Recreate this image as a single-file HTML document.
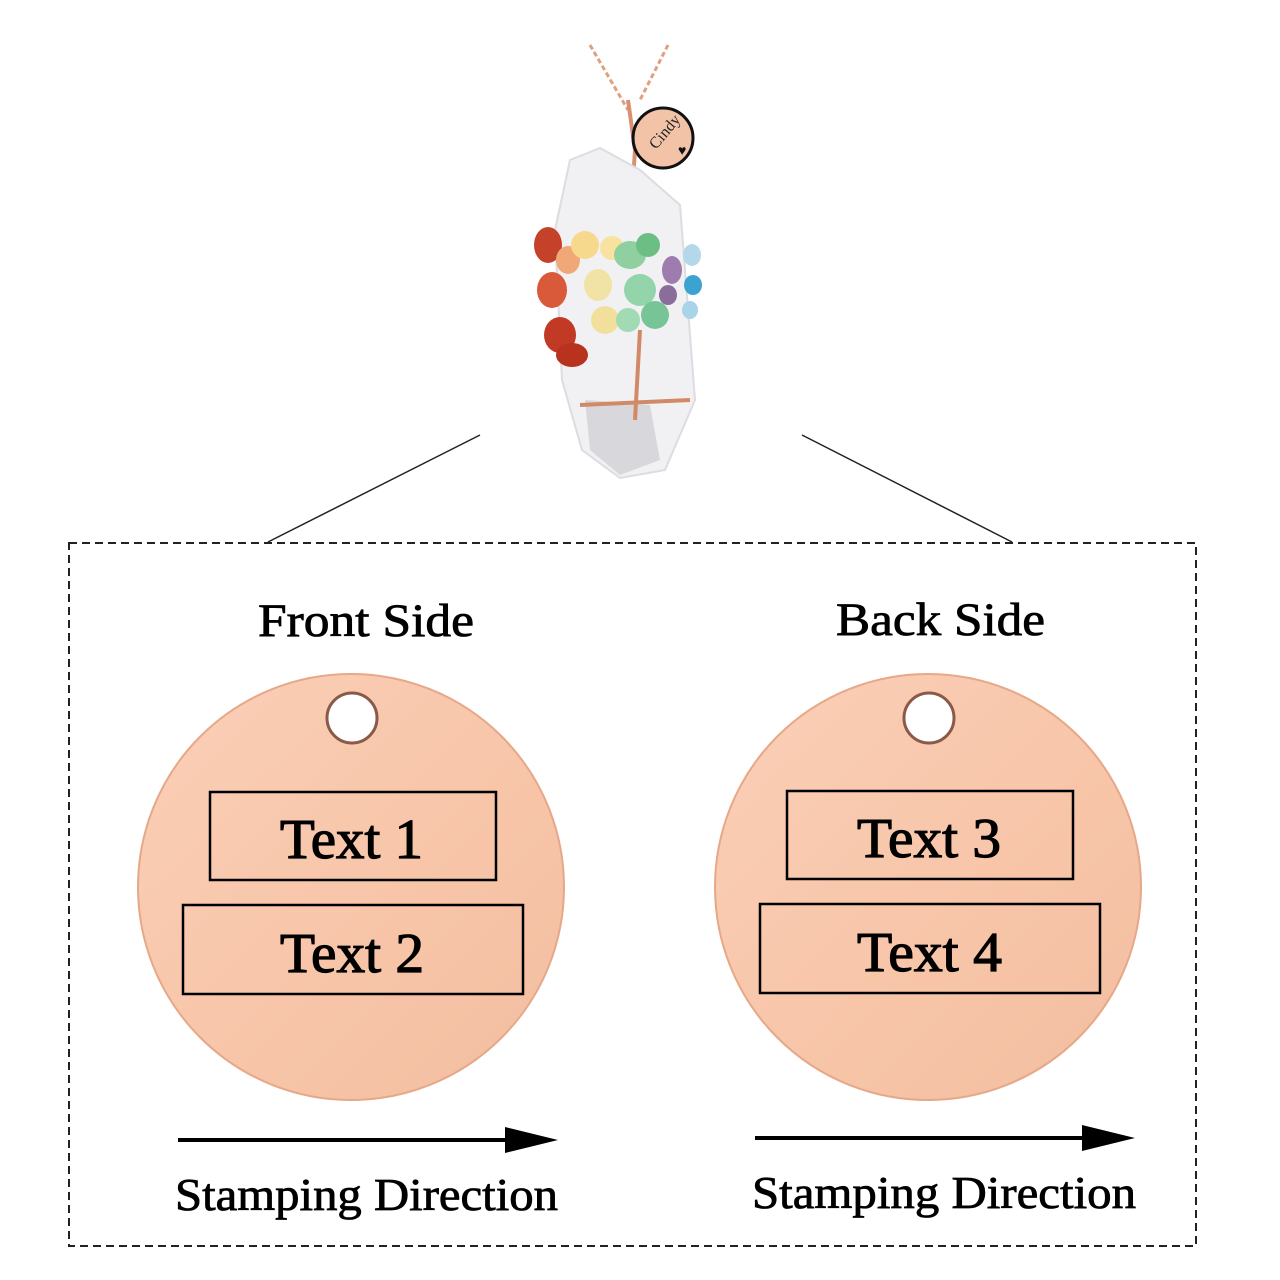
<!DOCTYPE html>
<html><head><meta charset="utf-8"><style>
html,body{margin:0;padding:0;background:#fff;}
svg{display:block}
text{font-family:"Liberation Serif",serif;}
</style></head><body>
<svg width="1280" height="1280" viewBox="0 0 1280 1280" xmlns="http://www.w3.org/2000/svg">
<defs>
<linearGradient id="g" x1="0" y1="0" x2="1" y2="1">
<stop offset="0" stop-color="#fad0b8"/><stop offset="0.5" stop-color="#f8c6aa"/><stop offset="1" stop-color="#f3bea0"/>
</linearGradient>
</defs>
<rect width="1280" height="1280" fill="#fff"/>
<!-- pendant -->
<path d="M590 45 L628 110 M668 45 L640 100" stroke="#e0a080" stroke-width="3" fill="none" stroke-dasharray="5 3"/>
<path d="M628 100 L635 150 L632 195" stroke="#d99070" stroke-width="4" fill="none"/>
<polygon points="570,160 600,148 640,170 680,205 695,400 665,470 620,478 582,450 562,380 555,230" fill="#f1f1f3" stroke="#dcdce2" stroke-width="2"/>
<polygon points="585,400 650,405 660,460 620,475 590,450" fill="#d8d8dc"/>
<g>
<ellipse cx="548" cy="245" rx="14" ry="18" fill="#c4422a"/>
<ellipse cx="552" cy="290" rx="15" ry="18" fill="#d85a3a"/>
<ellipse cx="560" cy="335" rx="16" ry="18" fill="#c23a25"/>
<ellipse cx="572" cy="355" rx="16" ry="12" fill="#b8321e"/>
<ellipse cx="568" cy="260" rx="12" ry="14" fill="#f0a878"/>
<ellipse cx="585" cy="245" rx="14" ry="14" fill="#f6d98c"/>
<ellipse cx="598" cy="285" rx="14" ry="16" fill="#f1e3a6"/>
<ellipse cx="605" cy="320" rx="14" ry="14" fill="#f3df9c"/>
<ellipse cx="612" cy="248" rx="12" ry="12" fill="#f7e2a0"/>
<ellipse cx="630" cy="255" rx="16" ry="14" fill="#8fcfa0"/>
<ellipse cx="648" cy="245" rx="12" ry="12" fill="#6bbf85"/>
<ellipse cx="640" cy="290" rx="16" ry="16" fill="#93d4ab"/>
<ellipse cx="655" cy="315" rx="14" ry="14" fill="#77c597"/>
<ellipse cx="628" cy="320" rx="12" ry="12" fill="#a2dab4"/>
<ellipse cx="672" cy="270" rx="10" ry="14" fill="#9e7cae"/>
<ellipse cx="668" cy="295" rx="9" ry="10" fill="#8a6d9a"/>
<ellipse cx="692" cy="255" rx="9" ry="11" fill="#b3d8ea"/>
<ellipse cx="693" cy="285" rx="9" ry="10" fill="#3ca2d2"/>
<ellipse cx="690" cy="310" rx="8" ry="9" fill="#a9d3e6"/>
</g>
<path d="M640 330 L635 420 M580 405 L690 400" stroke="#d08a68" stroke-width="4" fill="none"/>
<circle cx="663" cy="138" r="30" fill="#f3c3a8" stroke="#111" stroke-width="3"/>
<text x="0" y="0" font-size="16" fill="#222" transform="translate(656,150) rotate(-50)">Cindy</text>
<text x="678" y="155" font-size="14" fill="#111">♥</text>
<!-- connectors -->
<line x1="480" y1="435" x2="268" y2="542" stroke="#222" stroke-width="1.5"/>
<line x1="802" y1="435" x2="1012" y2="542" stroke="#222" stroke-width="1.5"/>
<rect x="69" y="543" width="1127" height="703" fill="none" stroke="#222" stroke-width="2" stroke-dasharray="8 5"/>
<!-- titles -->
<g fill="#000" stroke="#000" stroke-width="0.8">
<text x="258" y="636" font-size="47" textLength="216" lengthAdjust="spacingAndGlyphs">Front Side</text>
<text x="836" y="635" font-size="47" textLength="209" lengthAdjust="spacingAndGlyphs">Back Side</text>
</g>
<!-- discs -->
<circle cx="351" cy="887" r="213" fill="url(#g)" stroke="#e6a888" stroke-width="2"/>
<circle cx="352" cy="718" r="25" fill="#fff" stroke="#8a5a48" stroke-width="3"/>
<circle cx="928" cy="887" r="213" fill="url(#g)" stroke="#e6a888" stroke-width="2"/>
<circle cx="929" cy="718" r="25" fill="#fff" stroke="#8a5a48" stroke-width="3"/>
<g fill="none" stroke="#000" stroke-width="2.5">
<rect x="210" y="792" width="286" height="88"/>
<rect x="183" y="905" width="340" height="89"/>
<rect x="787" y="791" width="286" height="88"/>
<rect x="760" y="904" width="340" height="89"/>
</g>
<g font-size="56" fill="#000" stroke="#000" stroke-width="1.2">
<text x="280" y="858" textLength="143" lengthAdjust="spacingAndGlyphs">Text 1</text>
<text x="280" y="972" textLength="144" lengthAdjust="spacingAndGlyphs">Text 2</text>
<text x="857" y="857" textLength="144" lengthAdjust="spacingAndGlyphs">Text 3</text>
<text x="857" y="971" textLength="145" lengthAdjust="spacingAndGlyphs">Text 4</text>
</g>
<!-- arrows -->
<line x1="178" y1="1140" x2="520" y2="1140" stroke="#000" stroke-width="4"/>
<polygon points="505,1127 558,1140 505,1153" fill="#000"/>
<line x1="755" y1="1138" x2="1097" y2="1138" stroke="#000" stroke-width="4"/>
<polygon points="1082,1125 1135,1138 1082,1151" fill="#000"/>
<g fill="#000" stroke="#000" stroke-width="0.8">
<text x="175" y="1210" font-size="46" textLength="383" lengthAdjust="spacingAndGlyphs">Stamping Direction</text>
<text x="752" y="1208" font-size="46" textLength="384" lengthAdjust="spacingAndGlyphs">Stamping Direction</text>
</g>
</svg>
</body></html>
